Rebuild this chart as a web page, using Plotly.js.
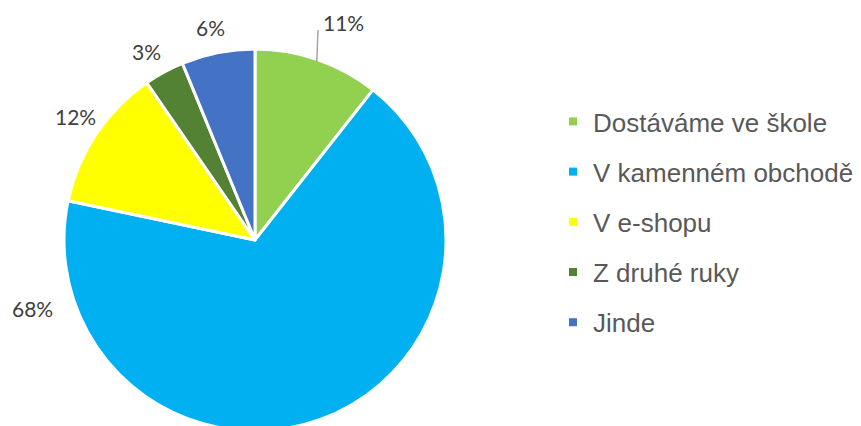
<!DOCTYPE html>
<html>
<head>
<meta charset="utf-8">
<script src="https://cdn.plot.ly/plotly-3.0.1.min.js"></script>
<style>
  html, body { margin: 0; padding: 0; overflow: hidden; background: #fff; }
  #chart { width: 861px; height: 440px; }
</style>
</head>
<body>
<div id="chart"></div>
<script>
// ---- data ----
const categories = ['Dostáváme ve škole', 'V kamenném obchodě', 'V e-shopu', 'Z druhé ruky', 'Jinde'];
const values = [10.6, 67.7, 12.1, 3.4, 6.2];
const colors = ['#92D050', '#00B0F0', '#FFFF00', '#548235', '#4472C4'];

// ---- layout constants (pixels) ----
const W = 861, H = 440;
const cx = 255, cy = 240, r = 191;
// percent label centres (px), one per slice
const labelPos = [[343, 22], [32, 308], [75, 116], [146, 52], [210, 28]];

const total = values.reduce((a, b) => a + b, 0);
const px = x => x / W;
const py = y => (H - y) / H;

const pieTrace = {
  type: 'pie',
  labels: categories,
  values: values,
  sort: false,
  direction: 'clockwise',
  rotation: 0,
  textinfo: 'none',
  hoverinfo: 'skip',
  showlegend: false,
  marker: { colors: colors, line: { color: '#ffffff', width: 3 } },
  domain: { x: [px(cx - r), px(cx + r)], y: [py(cy + r), py(cy - r)] }
};

// legend entries (one per category)
const legendTraces = categories.map((c, i) => ({
  type: 'scatter',
  x: [null], y: [null],
  mode: 'markers',
  name: c,
  legendgroup: 'g' + i,
  hoverinfo: 'skip',
  marker: { color: colors[i], symbol: 'square', size: 8 }
}));

const annotations = values.map((v, i) => ({
  xref: 'paper', yref: 'paper',
  x: px(labelPos[i][0]), y: py(labelPos[i][1]),
  xanchor: 'center', yanchor: 'middle',
  text: Math.round(v / total * 100) + '%',
  showarrow: false,
  font: { family: 'Lato, "Open Sans", sans-serif', size: 21, color: '#404040' }
}));

// leader line for the first slice: from slice edge (mid-angle) to label
let acc = 0;
const mids = values.map(v => { const m = (acc + v / 2) / total * 2 * Math.PI; acc += v; return m; });
const a0 = mids[0];
const shapes = [{
  type: 'line', xref: 'paper', yref: 'paper',
  x0: px(cx + (r - 2) * Math.sin(a0)), y0: py(cy - (r - 2) * Math.cos(a0)),
  x1: px(labelPos[0][0] - 25), y1: py(labelPos[0][1] + 8),
  line: { color: '#A6A6A6', width: 1.5 }
}];

const layout = {
  width: W, height: H,
  margin: { l: 0, r: 0, t: 0, b: 0 },
  paper_bgcolor: '#ffffff', plot_bgcolor: '#ffffff',
  xaxis: { visible: false }, yaxis: { visible: false },
  showlegend: true,
  legend: {
    x: px(553), xanchor: 'left',
    y: py(222), yanchor: 'middle',
    tracegroupgap: 13.4,
    font: { family: '"Liberation Sans", Arial, sans-serif', size: 26, color: '#595959' },
    bgcolor: 'rgba(0,0,0,0)'
  },
  annotations: annotations,
  shapes: shapes
};

Plotly.newPlot('chart', [pieTrace].concat(legendTraces), layout, { displayModeBar: false, staticPlot: true });
</script>
</body>
</html>
